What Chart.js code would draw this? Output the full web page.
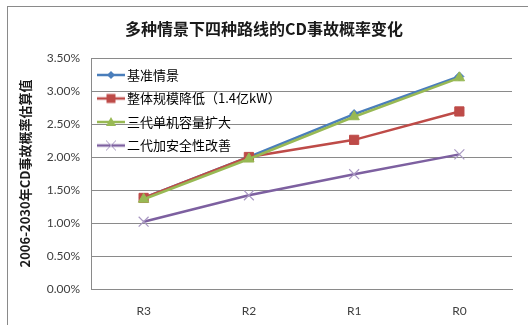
<!DOCTYPE html>
<html>
<head>
<meta charset="utf-8">
<script src="https://cdn.jsdelivr.net/npm/chart.js@4.4.0/dist/chart.umd.min.js"></script>
<style>
  html, body { margin: 0; padding: 0; background: #ffffff; }
  #wrap { position: relative; width: 528px; height: 325px; }
</style>
</head>
<body>
<div id="wrap"><canvas id="c" width="528" height="325"></canvas></div>
<script>
// ---- data ----
const categories = ['R3', 'R2', 'R1', 'R0'];
const seriesNames = ['基准情景', '整体规模降低（1.4亿kW）', '三代单机容量扩大', '二代加安全性改善'];
const baseline = [1.38, 2.00, 2.65, 3.22];
const scaleDown = [1.38, 2.00, 2.26, 2.69];
const gen3Larger = [1.36, 1.97, 2.61, 3.20];
const gen2Safety = [1.02, 1.42, 1.74, 2.04];
const yTicks = [0, 0.5, 1.0, 1.5, 2.0, 2.5, 3.0, 3.5];
const chartTitle = '多种情景下四种路线的CD事故概率变化';
const yTitle = '2006-2030年CD事故概率估算值';

// ---- styles ----
const colors = ['#4A7EBB', '#BE4B48', '#98B954', '#7D60A0'];
const markerColors = ['#4A7EBB', '#BE4B48', '#98B954', '#A897C2'];
const styles = ['rectRot', 'rect', 'triangle', 'crossRot'];
const radii = [4.5, 6.5, 6, 7];

function makeIcon(i) {
  const cv = document.createElement('canvas');
  cv.width = 28; cv.height = 14;
  const g = cv.getContext('2d');
  const cx = 14, cy = 7;
  g.strokeStyle = colors[i];
  g.lineWidth = 2.5;
  g.beginPath(); g.moveTo(0, cy); g.lineTo(28, cy); g.stroke();
  g.fillStyle = markerColors[i];
  g.strokeStyle = markerColors[i];
  g.lineWidth = 1;
  g.beginPath();
  if (i === 0) {
    g.moveTo(cx, cy - 4); g.lineTo(cx + 4, cy); g.lineTo(cx, cy + 4); g.lineTo(cx - 4, cy); g.closePath(); g.fill();
  } else if (i === 1) {
    g.rect(cx - 4.5, cy - 4.5, 9, 9); g.fill();
  } else if (i === 2) {
    g.moveTo(cx, cy - 5); g.lineTo(cx + 5, cy + 4); g.lineTo(cx - 5, cy + 4); g.closePath(); g.fill();
  } else {
    g.moveTo(cx - 5, cy - 5); g.lineTo(cx + 5, cy + 5); g.moveTo(cx + 5, cy - 5); g.lineTo(cx - 5, cy + 5); g.stroke();
  }
  return cv;
}
const icons = [0, 1, 2, 3].map(makeIcon);

const frame = {
  id: 'frame',
  beforeDraw(chart) {
    const ctx = chart.ctx;
    ctx.save();
    ctx.fillStyle = '#ffffff';
    ctx.fillRect(0, 0, chart.width, chart.height);
    ctx.strokeStyle = '#8a8a8a';
    ctx.lineWidth = 1;
    ctx.strokeRect(7.5, 6.5, 600, 400);
    ctx.restore();
  }
};

// place the in-plot legend at the top-left corner of the plot area
const legendInPlot = {
  id: 'legendInPlot',
  afterLayout(chart) {
    const lg = chart.legend, ca = chart.chartArea;
    if (!lg) return;
    const h = lg.height, w = lg.width;
    lg.top = ca.top; lg.bottom = ca.top + h;
    lg.left = ca.left; lg.right = ca.left + w;
  }
};

const allSeries = [baseline, scaleDown, gen3Larger, gen2Safety];
const datasets = allSeries.map((d, i) => ({
  label: seriesNames[i],
  data: d,
  borderColor: colors[i],
  backgroundColor: markerColors[i],
  pointBackgroundColor: markerColors[i],
  pointBorderColor: markerColors[i],
  pointStyle: styles[i],
  pointRadius: radii[i],
  pointBorderWidth: i === 3 ? 1.2 : 1,
  borderWidth: 2.5,
  tension: 0,
  fill: false,
  order: 4 - i
}));

new Chart(document.getElementById('c'), {
  type: 'line',
  data: { labels: categories, datasets },
  plugins: [frame, legendInPlot],
  options: {
    responsive: false,
    animation: false,
    devicePixelRatio: 1,
    layout: { padding: { left: 0, right: 0, top: 0, bottom: 0 } },
    plugins: {
      tooltip: { enabled: false },
      title: {
        display: true,
        text: chartTitle,
        color: '#1a1a1a',
        font: { family: '"Noto Sans CJK SC"', size: 16, weight: 'bold' },
        padding: { top: 19.4, bottom: 19.4 }
      },
      legend: {
        position: 'chartArea',
        align: 'start',
        labels: {
          usePointStyle: true,
          pointStyleWidth: 19,
          padding: 10.5,
          color: '#1a1a1a',
          font: { family: '"Noto Sans CJK SC"', size: 13 },
          generateLabels(chart) {
            return chart.data.datasets.map((ds, i) => ({
              text: ds.label,
              pointStyle: icons[i],
              datasetIndex: i,
              hidden: false,
              fillStyle: colors[i],
              strokeStyle: colors[i],
              lineWidth: 0
            }));
          }
        }
      }
    },
    scales: {
      x: {
        offset: true,
        grid: { display: false, drawTicks: false },
        border: { display: true, color: '#8a8a8a', width: 1 },
        ticks: { padding: 15, color: '#404040', font: { family: 'Lato', size: 12 } },
        afterFit(s) { s.height = 36; }
      },
      y: {
        min: yTicks[0],
        max: yTicks[yTicks.length - 1],
        afterBuildTicks(s) { s.ticks = yTicks.map(v => ({ value: v })); },
        grid: { color: '#8a8a8a', drawTicks: false, lineWidth: 1 },
        border: { display: true, color: '#8a8a8a', width: 1 },
        ticks: {
          padding: 11,
          color: '#404040',
          font: { family: 'Lato', size: 12 },
          callback: v => v.toFixed(2) + '%'
        },
        title: {
          display: true,
          text: yTitle,
          color: '#1a1a1a',
          font: { family: '"Noto Sans CJK SC"', size: 13, weight: 'bold' },
          padding: { top: 17, bottom: 0 }
        },
        afterFit(s) { s.width = 91; }
      },
      yRight: {
        type: 'linear',
        position: 'right',
        display: true,
        min: 0,
        max: 1,
        grid: { display: false, drawTicks: false },
        border: { display: false },
        ticks: { display: false },
        afterFit(s) { s.width = 16; }
      }
    }
  }
});
</script>
</body>
</html>
